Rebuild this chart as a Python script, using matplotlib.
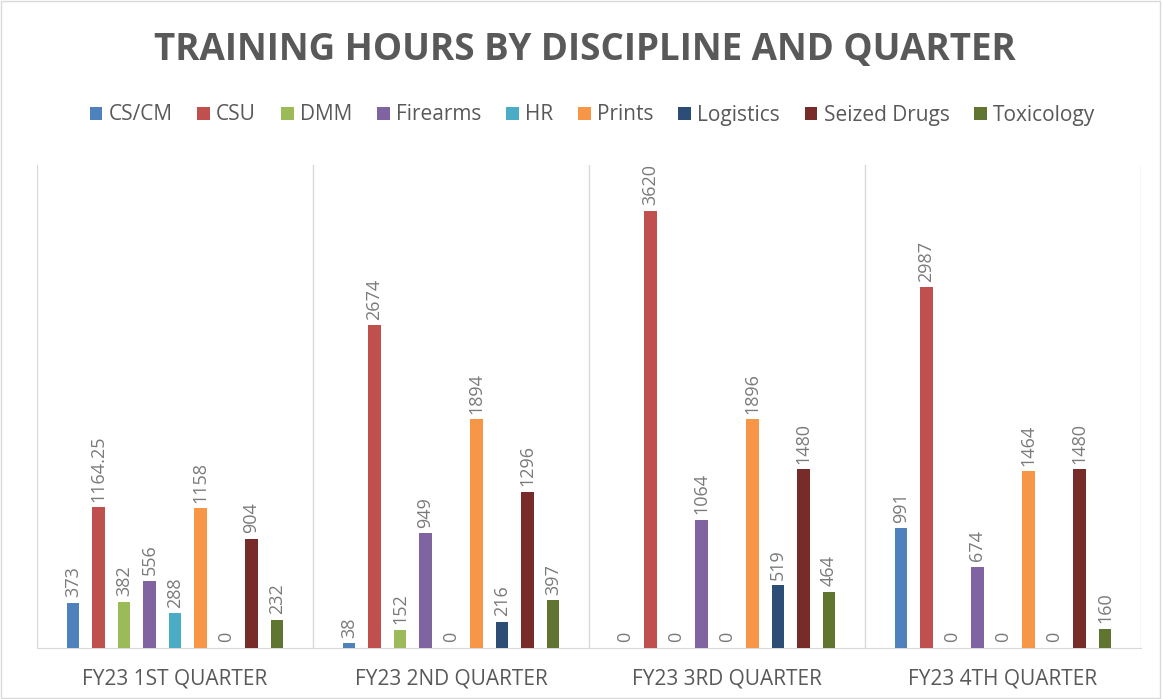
import numpy as np
import matplotlib
matplotlib.use("Agg")
import matplotlib.pyplot as plt
from matplotlib.patches import Rectangle

plt.rcParams['font.family'] = ['Open Sans', 'DejaVu Sans']

quarters = ['FY23 1ST QUARTER', 'FY23 2ND QUARTER', 'FY23 3RD QUARTER', 'FY23 4TH QUARTER']
disciplines = ['CS/CM', 'CSU', 'DMM', 'Firearms', 'HR', 'Prints', 'Logistics', 'Seized Drugs', 'Toxicology']
colors = ['#4F81BD', '#C0504D', '#9BBB59', '#8064A2', '#4BACC6', '#F79646', '#2C4D75', '#772C2A', '#5F7530']

# hours per discipline, one value per quarter
cs_cm = [373, 38, 0, 991]
csu = [1164.25, 2674, 3620, 2987]
dmm = [382, 152, 0, 0]
firearms = [556, 949, 1064, 674]
hr = [288, 0, 0, 0]
prints = [1158, 1894, 1896, 1464]
logistics = [0, 216, 519, 0]
seized_drugs = [904, 1296, 1480, 1480]
toxicology = [232, 397, 464, 160]
series = [cs_cm, csu, dmm, firearms, hr, prints, logistics, seized_drugs, toxicology]

fig = plt.figure(figsize=(11.62, 6.99), dpi=100)
ax = fig.add_axes([37/1162, 1-648/699, (1141-37)/1162, (648-165)/699])

x = np.arange(len(quarters))
slot = 0.0924
width = 0.047
for i, (name, vals) in enumerate(zip(disciplines, series)):
    bars = ax.bar(x + (i-4)*slot, vals, width, color=colors[i], label=name, zorder=3)
    ax.bar_label(bars, labels=['{:g}'.format(v) for v in vals], rotation=90,
                 padding=4, color='#7a7a7a', fontsize=13)

ax.set_xlim(-0.5, 3.5)
ax.set_ylim(0, 4000)
ax.set_yticks([])
for b in np.arange(-0.5, 4, 1):
    ax.axvline(b, color='#d9d9d9', lw=1, zorder=1)
for s in ['top', 'left', 'right']:
    ax.spines[s].set_visible(False)
ax.spines['bottom'].set_color('#d9d9d9')
ax.set_xticks(x)
ax.set_xticklabels(quarters, fontsize=15, color='#595959')
ax.tick_params(axis='x', length=0, pad=15)

fig.text(0.503, 1-50/699, 'TRAINING HOURS BY DISCIPLINE AND QUARTER', ha='center', va='center',
         fontsize=26.5, fontweight='bold', color='#595959')

fig.legend(loc='center', bbox_to_anchor=(0.51, 1-115/699), ncol=9, frameon=False,
           fontsize=15, handlelength=0.6, handleheight=0.6, handletextpad=0.3,
           columnspacing=1.2, labelcolor='#595959')

fig.patches.append(Rectangle((0.001, 0.001), 0.997, 0.997, transform=fig.transFigure,
                             fill=False, edgecolor='#d9d9d9', lw=1))

plt.savefig('out.png', dpi=100)
